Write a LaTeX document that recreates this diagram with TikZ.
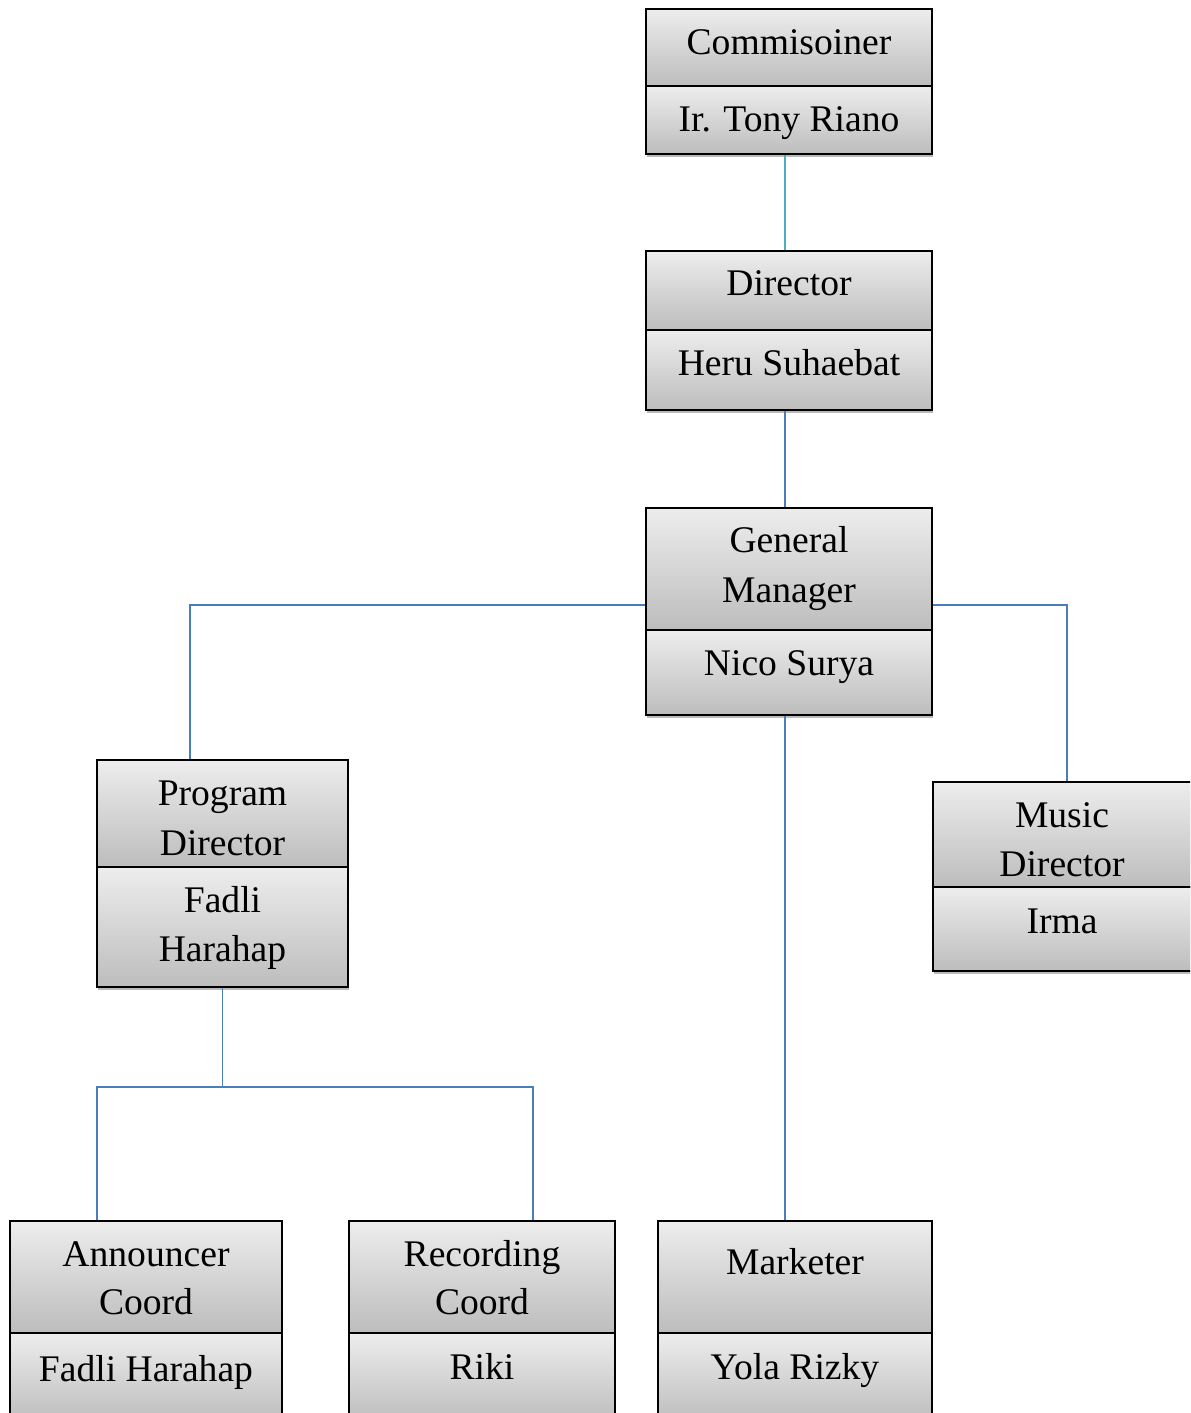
\documentclass[tikz,border=0pt]{standalone}
\usepackage{fontspec}
\setmainfont{Liberation Serif}
\usetikzlibrary{shadows}
\begin{document}
\begin{tikzpicture}[x=0.5pt,y=-0.5pt,
  sect/.style={draw=black, line width=1pt, top color=black!7, bottom color=black!26,
    inner sep=0pt, drop shadow={shadow xshift=0.3pt, shadow yshift=-1.5pt, fill=black!45, opacity=0.6}},
  lbl/.style={anchor=base, inner sep=0pt, font=\fontsize{18.8pt}{24pt}\selectfont},
  conn/.style={draw={rgb,255:red,74;green,126;blue,187}, line width=0.9pt},
  conntop/.style={draw={rgb,255:red,75;green,172;blue,198}, line width=0.9pt}]
\clip (0,0) rectangle (1190,1413);
\fill[white] (0,0) rectangle (1190,1413);
% Commissioner
\node[sect, minimum width=143pt, minimum height=38.5pt] (c1) at (789,47.5) {};
\node[sect, minimum width=143pt, minimum height=34pt] (c2) at (789,120) {};
\node[lbl] (tc1) at (789,55) {Commisoiner};
\node[lbl] (tc2) at (789,132) {Ir. Tony Riano};
% Director
\node[sect, minimum width=143pt, minimum height=39.5pt] (d1) at (789,290.5) {};
\node[sect, minimum width=143pt, minimum height=40pt] (d2) at (789,370) {};
\node[lbl] (td1) at (789,295) {Director};
\node[lbl] (td2) at (789,375) {Heru Suhaebat};
% General Manager
\node[sect, minimum width=143pt, minimum height=61pt] (g1) at (789,569) {};
\node[sect, minimum width=143pt, minimum height=42.5pt] (g2) at (789,672.5) {};
\node[lbl] (tg1) at (789,552) {General};
\node[lbl] (tg1b) at (789,602) {Manager};
\node[lbl] (tg2) at (789,675) {Nico Surya};
% Program Director
\node[sect, minimum width=125.5pt, minimum height=53.5pt] (p1) at (222.5,813.5) {};
\node[sect, minimum width=125.5pt, minimum height=60pt] (p2) at (222.5,927) {};
\node[lbl] (tp1) at (222.5,805) {Program};
\node[lbl] (tp1b) at (222.5,855) {Director};
\node[lbl] (tp2) at (222.5,912) {Fadli};
\node[lbl] (tp2b) at (222.5,961) {Harahap};
% Music Director
\node[sect, minimum width=130pt, minimum height=52.5pt] (m1) at (1063,834.5) {};
\node[sect, minimum width=130pt, minimum height=42pt] (m2) at (1063,929) {};
\node[lbl] (tm1) at (1062,827) {Music};
\node[lbl] (tm1b) at (1062,876) {Director};
\node[lbl] (tm2) at (1062,933) {Irma};
% Announcer
\node[sect, minimum width=136pt, minimum height=56pt] (a1) at (146,1277) {};
\node[sect, minimum width=136pt, minimum height=45pt] (a2) at (146,1378) {};
\node[lbl] (ta1) at (146,1266) {Announcer};
\node[lbl] (ta1b) at (146,1314) {Coord};
\node[lbl] (ta2) at (146,1381) {Fadli Harahap};
% Recording
\node[sect, minimum width=133pt, minimum height=56pt] (r1) at (482,1277) {};
\node[sect, minimum width=133pt, minimum height=45pt] (r2) at (482,1378) {};
\node[lbl] (tr1) at (482,1266) {Recording};
\node[lbl] (tr1b) at (482,1314) {Coord};
\node[lbl] (tr2) at (482,1379) {Riki};
% Marketer
\node[sect, minimum width=137pt, minimum height=56pt] (k1) at (795,1277) {};
\node[sect, minimum width=137pt, minimum height=45pt] (k2) at (795,1378) {};
\node[lbl] (tk1) at (795,1274) {Marketer};
\node[lbl] (tk2) at (795,1379) {Yola Rizky};
% connectors
\draw[conntop] ([xshift=-2pt]c2.south) -- ([xshift=-2pt]d1.north);
\draw[conn] ([xshift=-2pt]d2.south) -- ([xshift=-2pt]g1.north);
\draw[conn] ([yshift=-18pt]g1.west) -| ([xshift=-16.25pt]p1.north);
\draw[conn] ([yshift=-18pt]g1.east) -| ([xshift=2pt]m1.north);
\draw[conn] ([xshift=-2pt]g2.south) -- ([xshift=-2pt]g2.south |- k1.north);
\coordinate (pj) at ([yshift=-49.5pt]p2.south);
\draw[conn] (p2.south) -- (pj);
\draw[conn] ([xshift=-24.5pt]a1.north) |- (pj) -| ([xshift=25.5pt]r1.north);
\end{tikzpicture}
\end{document}
